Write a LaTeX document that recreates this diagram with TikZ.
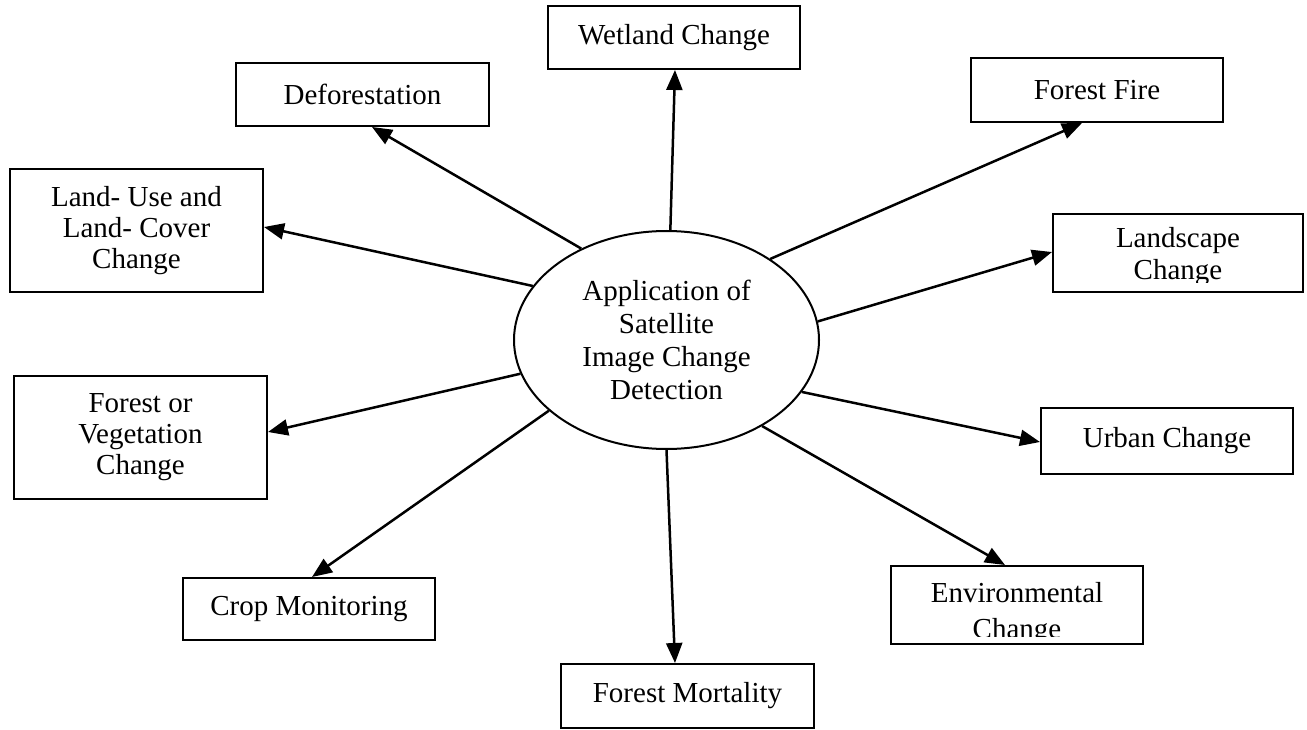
\documentclass[tikz,border=0pt]{standalone}
\usepackage{fontspec}
\setmainfont{Liberation Serif}
\usetikzlibrary{arrows.meta,shapes.geometric}
\begin{document}
\begin{tikzpicture}[x=1pt,y=-1pt,
  box/.style={draw,line width=2pt,inner sep=0pt,align=center,
    font=\fontsize{29pt}{31pt}\selectfont},
  txt/.style={inner sep=0pt,align=center,font=\fontsize{29pt}{32pt}\selectfont},
  hub/.style={draw,ellipse,line width=2pt,inner sep=0pt,align=center,
    minimum width=305pt,minimum height=218pt,
    font=\fontsize{29pt}{33pt}\selectfont},
  link/.style={line width=2.5pt,-{Triangle[length=20pt,width=16pt]}}]

\useasboundingbox (0,0) rectangle (1307,730);

% central topic
\node[hub] (e) at (666.5,340) {Application of\\Satellite\\Image Change\\Detection};

% application boxes
\node[box,minimum width=252pt,minimum height=63pt] (wet) at (674,37.5) {Wetland Change};
\node[box,minimum width=253pt,minimum height=63pt] (defo) at (362.5,94.5) {Deforestation};
\node[box,minimum width=252pt,minimum height=64pt] (fire) at (1097,90) {Forest Fire};
\node[box,minimum width=253pt,minimum height=123pt] (land) at (136.5,230.5) {Land- Use and\\Land- Cover\\Change};
\node[box,minimum width=250pt,minimum height=78pt] (lscape) at (1178,253) {};
\node[box,minimum width=253pt,minimum height=123pt] (veg) at (140.5,437.5) {Forest or\\Vegetation\\Change};
\node[box,minimum width=252pt,minimum height=66pt] (urban) at (1167,441) {Urban Change};
\node[box,minimum width=252pt,minimum height=62pt] (crop) at (309,609) {Crop Monitoring};
\node[box,minimum width=252pt,minimum height=78pt] (env) at (1017,605) {};
\node[box,minimum width=253pt,minimum height=64pt] (mort) at (687.5,696) {Forest Mortality};

% two-line labels that run past the bottom of their boxes
\begin{scope}
  \clip (lscape.north west) rectangle ([yshift=10pt]lscape.south east);
  \node[txt] (lscapetxt) at (1178,257) {Landscape\\Change};
\end{scope}
\begin{scope}
  \clip (env.north west) rectangle ([yshift=9pt]env.south east);
  \node[txt,font=\fontsize{29pt}{36pt}\selectfont] (envtxt) at (1017,614) {Environmental\\Change};
\end{scope}

% connectors
\draw[link] (e.88.4)  -- ([xshift=1pt]wet.south);
\draw[link] (e.133)   -- ([xshift=9.5pt]defo.south);
\draw[link] (e.38.5)  -- ([xshift=-15pt]fire.south);
\draw[link] (e.158.6) -- ([yshift=3.5pt]land.east);
\draw[link] (e.7.5)   -- ([yshift=1pt]lscape.west);
\draw[link] (e.193.7) -- ([yshift=5.5pt]veg.east);
\draw[link] (e.-21.3) -- ([yshift=-1pt]urban.west);
\draw[link] (e.211.7) -- ([xshift=3pt]crop.north);
\draw[link] (e.-42.2) -- ([xshift=-12pt]env.north);
\draw[link] (e.-90.5) -- ([xshift=-12.5pt]mort.north);
\end{tikzpicture}
\end{document}
